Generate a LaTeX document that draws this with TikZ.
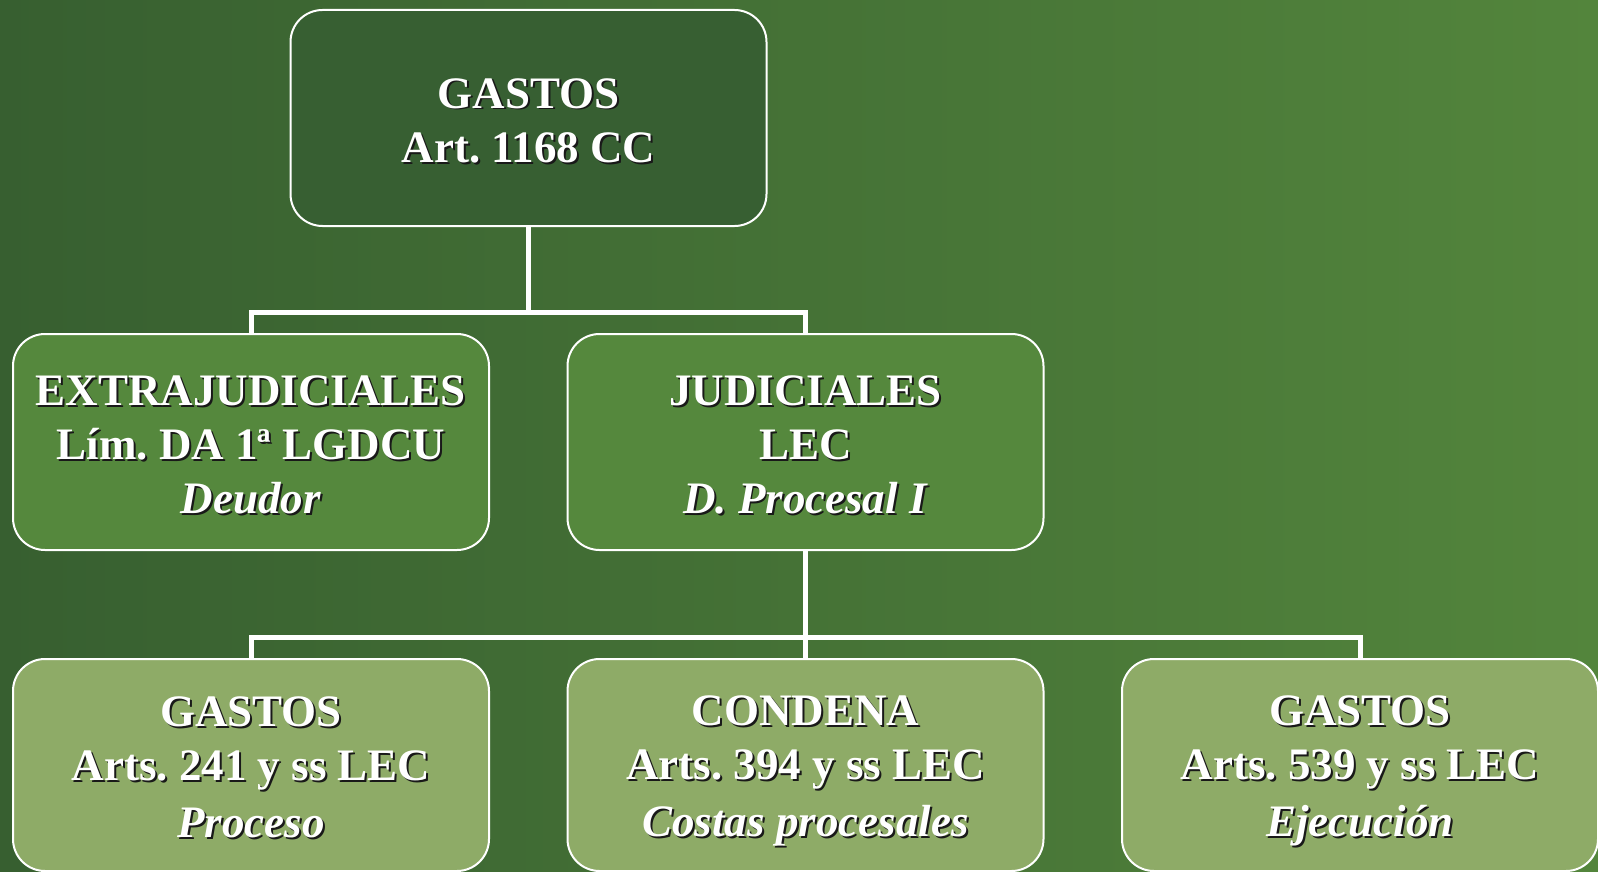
\documentclass[tikz,border=0pt]{standalone}
\usepackage{fontspec}
\setmainfont{Liberation Serif}
\usepackage{tikz}
\usetikzlibrary{%
  arrows.meta,%
  positioning%
}
\frenchspacing

\definecolor{bgleft}{HTML}{375F30}
\definecolor{bgright}{HTML}{53853C}
\definecolor{rootgreen}{HTML}{375F32}
\definecolor{midgreen}{HTML}{55883D}
\definecolor{leafgreen}{HTML}{8EAB67}
% one line of text with its shadow and a fixed line box
\newcommand{\shd}[1]{\rule[-10pt]{0pt}{54pt}%
  \rlap{\kern2pt\raisebox{-2pt}{\color{black!90}#1}}#1}

\tikzset{
  box/.style={draw=white,line width=2pt,rounded corners=32pt,
    minimum width=476pt,minimum height=216pt,inner sep=0pt,
    align=center,text=white,font=\fontsize{45}{54}\selectfont\bfseries},
  conn/.style={draw=white,line width=5pt}
}

\begin{document}
\begin{tikzpicture}[x=1pt,y=-1pt]
      \shade [left color=bgleft,right color=bgright] (0,0) rectangle (1598,872);
      \useasboundingbox (0,0) rectangle (1598,872);
      % root
      \node [box,fill=rootgreen] (gastos) at (528.5,118)
        {\shd{GASTOS}\\\shd{Art. 1168 CC}};
      % second level
      \node [box,fill=midgreen] (extra) at (251,442)
        {\shd{EXTRAJUDICIALES}\\\shd{Lím. DA 1ª LGDCU}\\\shd{\textit{Deudor}}};
      \node [box,fill=midgreen] (judi) at (805.5,442)
        {\shd{JUDICIALES}\\\shd{LEC}\\\shd{\textit{D. Procesal I}}};
      % third level
      \node [box,fill=leafgreen,minimum height=212pt] (proceso) at (251,765)
        {\shd{GASTOS}\\\shd{Arts. 241 y ss LEC}\\\shd{\textit{Proceso}}};
      \node [box,fill=leafgreen,minimum height=212pt] (condena) at (805.5,765)
        {\shd{CONDENA}\\\shd{Arts. 394 y ss LEC}\\\shd{\textit{Costas procesales}}};
      \node [box,fill=leafgreen,minimum height=212pt] (ejec) at (1360,765)
        {\shd{GASTOS}\\\shd{Arts. 539 y ss LEC}\\\shd{\textit{Ejecución}}};
      % connectors
      \coordinate (j1) at (528.5,312);
      \coordinate (j2) at (805.5,637);
      \draw [conn] (gastos.south) -- (j1);
      \draw [conn] (extra.north) |- (j1) -| (judi.north);
      \draw [conn] (judi.south) -- (condena.north);
      \draw [conn] (proceso.north) |- (j2) -| (ejec.north);
    \end{tikzpicture}
\end{document}
